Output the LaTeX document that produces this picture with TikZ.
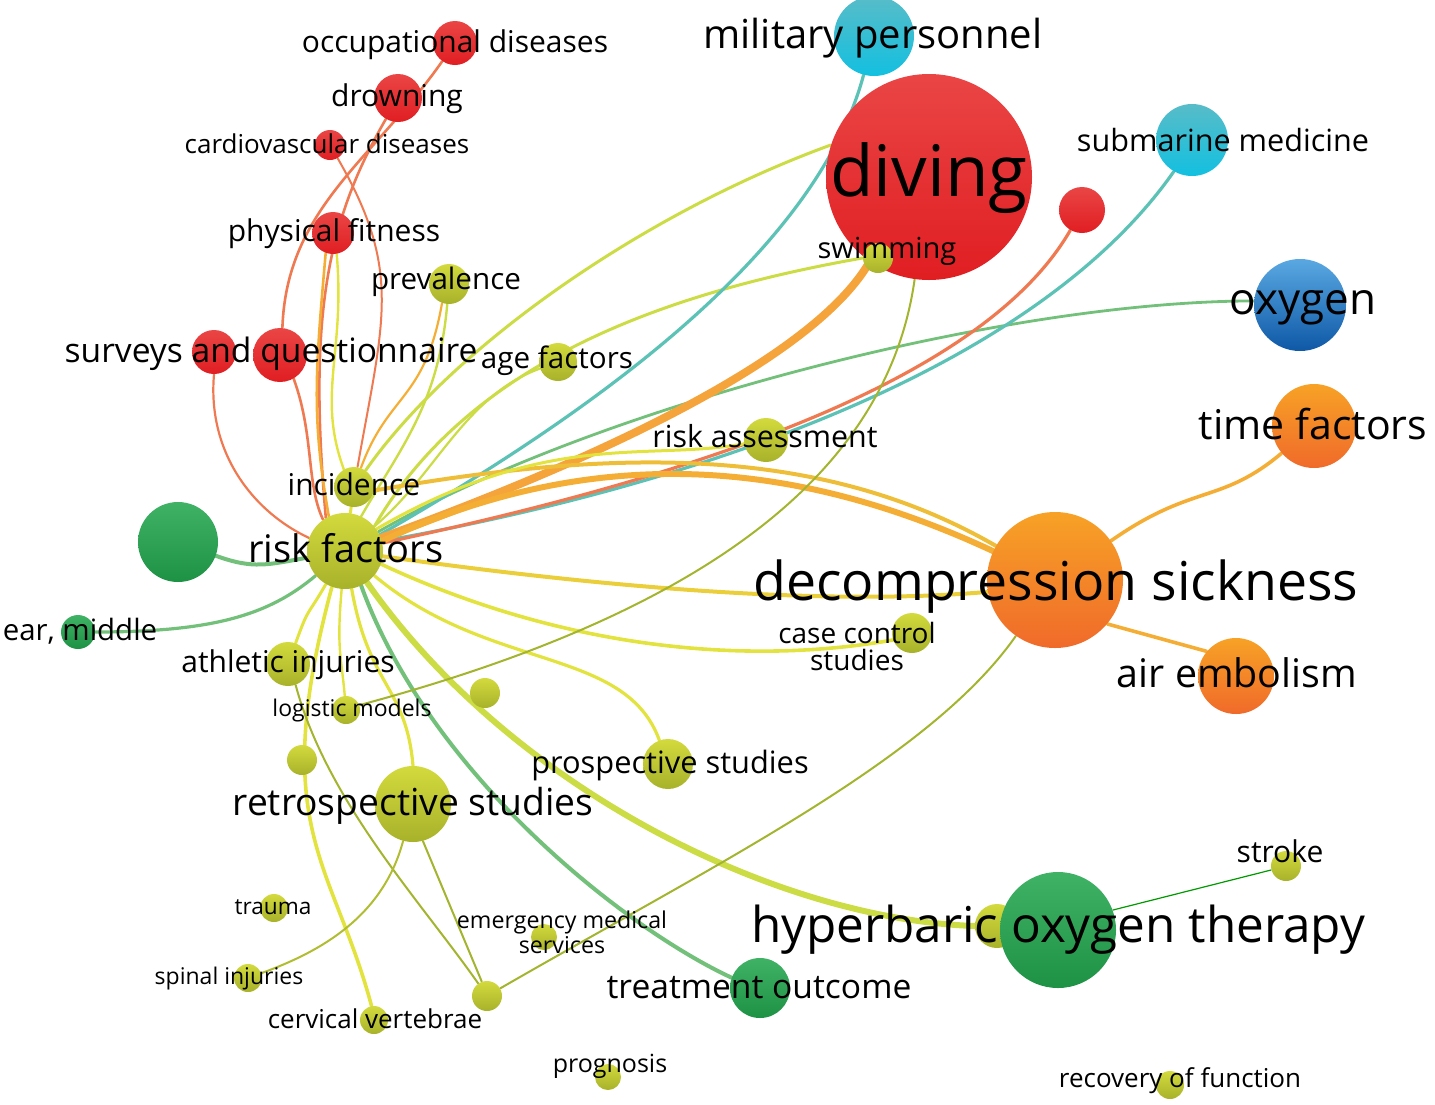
\documentclass[tikz,border=0pt]{standalone}
\usepackage{fontspec}
\setmainfont{Open Sans}
\usetikzlibrary{backgrounds}
\definecolor{lkOrRed}{HTML}{EF7A52}
\definecolor{lkOrange}{HTML}{F5AE35}
\definecolor{lkYellow}{HTML}{E2E33E}
\definecolor{lkLime}{HTML}{CBDC45}
\definecolor{lkGreen}{HTML}{72C07A}
\definecolor{lkTeal}{HTML}{5CC2B6}
\definecolor{lkOlive}{HTML}{A3B42E}
\definecolor{redTop}{HTML}{EA4545}
\definecolor{redBot}{HTML}{E01E22}
\definecolor{oliveTop}{HTML}{D3DA3D}
\definecolor{oliveBot}{HTML}{A8B22A}
\definecolor{greenTop}{HTML}{40B266}
\definecolor{greenBot}{HTML}{1E9244}
\definecolor{orangeTop}{HTML}{F7A226}
\definecolor{orangeBot}{HTML}{F06A2A}
\definecolor{cyanTop}{HTML}{58BCC8}
\definecolor{cyanBot}{HTML}{12C0E0}
\definecolor{blueTop}{HTML}{5AA8E2}
\definecolor{blueBot}{HTML}{0E58A6}
\newcommand{\fsz}[1]{\fontsize{#1}{#1}\selectfont}
\tikzset{
    kw/.style={circle, inner sep=0pt, draw=none},
    kwred/.style={kw, top color=redTop, bottom color=redBot},
    kwolive/.style={kw, top color=oliveTop, bottom color=oliveBot},
    kwgreen/.style={kw, top color=greenTop, bottom color=greenBot},
    kworange/.style={kw, top color=orangeTop, bottom color=orangeBot},
    kwcyan/.style={kw, top color=cyanTop, bottom color=cyanBot},
    kwblue/.style={kw, top color=blueTop, bottom color=blueBot},
    kwlabel/.style={anchor=base, inner sep=0pt, text=black},
    lnk/.style={line cap=round}
}

\begin{document}
\begin{tikzpicture}[x=0.5pt, y=0.5pt]
    \useasboundingbox (0,0) rectangle (1435,-1104);

    % keyword circles (red cluster)
    \node[kwred, minimum size=22pt] (occ) at (455,-43) {};
    \node[kwred, minimum size=24pt] (drown) at (398,-98) {};
    \node[kwred, minimum size=15pt] (cardio) at (330,-145) {};
    \node[kwred, minimum size=21pt] (pf) at (333,-233) {};
    \node[kwred, minimum size=22pt] (svA) at (214,-352) {};
    \node[kwred, minimum size=27pt] (svB) at (280,-355) {};
    \node[kwred, minimum size=103pt] (diving) at (929,-177) {};
    \node[kwred, minimum size=23pt] (redsm) at (1082,-210) {};

    % yellow-green cluster
    \node[kwolive, minimum size=20pt] (prev) at (449,-284) {};
    \node[kwolive, minimum size=19pt] (age) at (558,-362) {};
    \node[kwolive, minimum size=20pt] (inc) at (354,-487) {};
    \node[kwolive, minimum size=38pt] (rf) at (345,-551) {};
    \node[kwolive, minimum size=22pt] (ath) at (288,-664) {};
    \node[kwolive, minimum size=14pt] (logm) at (346,-710) {};
    \node[kwolive, minimum size=15pt] (u1) at (485,-693) {};
    \node[kwolive, minimum size=15pt] (u2) at (302,-760) {};
    \node[kwolive, minimum size=38pt] (retro) at (413,-804) {};
    \node[kwolive, minimum size=25pt] (pros) at (668,-764) {};
    \node[kwolive, minimum size=14pt] (trauma) at (274,-908) {};
    \node[kwolive, minimum size=13pt] (ems) at (544,-937) {};
    \node[kwolive, minimum size=14pt] (spinal) at (248,-978) {};
    \node[kwolive, minimum size=14pt] (cerv) at (374,-1020) {};
    \node[kwolive, minimum size=15pt] (u3) at (487,-996) {};
    \node[kwolive, minimum size=13pt] (progn) at (608,-1077) {};
    \node[kwolive, minimum size=15pt] (stroke) at (1286,-866) {};
    \node[kwolive, minimum size=14pt] (recov) at (1170,-1085) {};
    \node[kwolive, minimum size=20pt] (cc) at (912,-633) {};
    \node[kwolive, minimum size=22pt] (ra) at (766,-440) {};
    \node[kwolive, minimum size=15pt] (swim) at (878,-258) {};
    \node[kwolive, minimum size=22pt] (hbosm) at (997,-926) {};

    % green cluster
    \node[kwgreen, minimum size=40pt] (bg) at (178,-542) {};
    \node[kwgreen, minimum size=17pt] (ear) at (78,-632) {};
    \node[kwgreen, minimum size=30pt] (tout) at (760,-988) {};
    \node[kwgreen, minimum size=58pt] (hbo) at (1058,-930) {};

    % orange, cyan, blue clusters
    \node[kworange, minimum size=68pt] (dcs) at (1055,-580) {};
    \node[kworange, minimum size=42pt] (time) at (1314,-426) {};
    \node[kworange, minimum size=38pt] (air) at (1236,-676) {};
    \node[kwcyan, minimum size=40pt] (mil) at (874,-36) {};
    \node[kwcyan, minimum size=36pt] (sub) at (1192,-140) {};
    \node[kwblue, minimum size=46pt] (oxy) at (1300,-305) {};

    % links
    \begin{scope}[on background layer]
        \draw[lnk, lkOrRed, line width=1.3pt] (occ.235) .. controls +(235:120) and +(88:120) .. (svB.85);
        \draw[lnk, lkOrRed, line width=1.3pt] (drown.240) .. controls +(240:120) and +(95:200) .. (rf.120);
        \draw[lnk, lkOrRed, line width=1pt] (cardio.-60) .. controls +(-60:130) and +(80:150) .. (inc.80);
        \draw[lnk, lkOrange, line width=1.3pt] (pf.250) .. controls +(265:120) and +(100:100) .. (rf.115);
        \draw[lnk, lkYellow, line width=1.2pt] (pf.280) .. controls +(275:100) and +(110:80) .. (inc.120);
        \draw[lnk, lkOrRed, line width=1.1pt] (svA.270) .. controls +(265:80) and +(155:60) .. (rf.160);
        \draw[lnk, lkOrRed, line width=1.3pt] (svB.300) .. controls +(-70:60) and +(115:40) .. (rf.125);
        \draw[lnk, lkLime, line width=1.2pt] (prev.265) .. controls +(265:100) and +(60:80) .. (rf.65);
        \draw[lnk, lkOrange, line width=1.1pt] (prev.250) .. controls +(260:100) and +(70:80) .. (inc.70);
        \draw[lnk, lkLime, line width=1.1pt] (age.200) .. controls +(200:80) and +(40:80) .. (rf.40);
        \draw[lnk, lkLime, line width=1.5pt] (diving.162) .. controls +(200:200) and +(55:150) .. (inc.55);
        \draw[lnk, lkLime, line width=1.5pt] (swim.180) .. controls +(190:180) and +(60:200) .. (rf.40);
        \draw[lnk, lkGreen, line width=1.4pt] (oxy.175) .. controls +(180:250) and +(30:250) .. (rf.30);
        \draw[lnk, lkTeal, line width=1.6pt] (mil.255) .. controls +(255:200) and +(30:200) .. (rf.25);
        \draw[lnk, lkTeal, line width=1.6pt] (sub.240) .. controls +(235:250) and +(10:300) .. (rf.15);
        \draw[lnk, lkOrRed, line width=1.6pt] (redsm.240) .. controls +(240:180) and +(12:300) .. (rf.12);
        \draw[lnk, lkOrange!80!lkOrRed, line width=4pt] (diving.235) .. controls +(240:120) and +(20:200) .. (rf.20);
        \draw[lnk, lkOrange, line width=3pt] (rf.15) .. controls +(25:250) and +(155:200) .. (dcs.155);
        \draw[lnk, lkOrange!70!lkYellow, line width=2pt] (inc.-10) .. controls +(10:250) and +(150:200) .. (dcs.150);
        \draw[lnk, lkYellow!60!lkOrange, line width=2pt] (rf.-8) .. controls +(-8:250) and +(185:150) .. (dcs.190);
        \draw[lnk, lkYellow, line width=1.8pt] (rf.-20) .. controls +(-25:200) and +(190:150) .. (cc.200);
        \draw[lnk, lkYellow, line width=1.5pt] (rf.35) .. controls +(30:200) and +(190:100) .. (ra.190);
        \draw[lnk, lkYellow, line width=1.6pt] (rf.-40) .. controls +(-40:150) and +(110:100) .. (pros.110);
        \draw[lnk, lkLime, line width=3pt] (rf.-55) .. controls +(-55:250) and +(178:200) .. (hbosm.180);
        \draw[lnk, lkGreen, line width=2pt] (rf.-65) .. controls +(-70:200) and +(155:120) .. (tout.160);
        \draw[lnk, lkYellow, line width=1.6pt] (rf.-80) .. controls +(-80:100) and +(95:80) .. (retro.90);
        \draw[lnk, lkYellow, line width=1.5pt] (rf.240) .. controls +(240:40) and +(70:40) .. (ath.70);
        \draw[lnk, lkYellow, line width=1.2pt] (rf.265) .. controls +(265:60) and +(95:40) .. (logm.95);
        \draw[lnk, lkYellow, line width=1.8pt] (rf.250) .. controls +(255:250) and +(105:150) .. (cerv.100);
        \draw[lnk, lkGreen, line width=1.6pt] (ear.0) .. controls +(0:120) and +(220:60) .. (rf.220);
        \draw[lnk, lkGreen, line width=2pt] (bg.-20) .. controls +(-20:40) and +(190:40) .. (rf.190);
        \draw[lnk, lkYellow, line width=1.5pt] (rf) -- (inc);
        \draw[lnk, lkOlive, line width=1pt] (ath.-70) .. controls +(-75:120) and +(125:100) .. (u3.125);
        \draw[lnk, lkOlive, line width=1pt] (logm.20) .. controls +(15:350) and +(262:200) .. (diving.262);
        \draw[lnk, lkOlive!80!lkYellow, line width=1pt] (retro.255) .. controls +(255:80) and +(20:60) .. (spinal.20);
        \draw[lnk, lkOlive, line width=1pt] (retro.285) -- (u3.110);
        \draw[lnk, lkOlive, line width=1pt] (u3.30) .. controls +(30:250) and +(235:150) .. (dcs.235);
        \draw[lnk, lkOrange, line width=1.8pt] (dcs.35) .. controls +(35:100) and +(220:80) .. (time.220);
        \draw[lnk, lkOrange, line width=1.8pt] (dcs.-40) -- (air.140);
        \draw[lnk, green!60!black, line width=0.6pt] (hbo.20) -- (stroke.195);
    \end{scope}

    % labels
    \node[kwlabel, font=\fsz{15}] (occ-l) at (455,-52) {occupational diseases};
    \node[kwlabel, font=\fsz{15}] (drown-l) at (397,-106) {drowning};
    \node[kwlabel, font=\fsz{13}] (cardio-l) at (327,-153) {cardiovascular diseases};
    \node[kwlabel, font=\fsz{15}] (pf-l) at (334,-241) {physical fitness};
    \node[kwlabel, font=\fsz{14.8}] (prev-l) at (446,-289) {prevalence};
    \node[kwlabel, font=\fsz{16.8}] (sv-l) at (271,-362) {surveys and questionnaire};
    \node[kwlabel, font=\fsz{14.8}] (age-l) at (557,-368) {age factors};
    \node[kwlabel, font=\fsz{15}] (inc-l) at (354,-495) {incidence};
    \node[kwlabel, font=\fsz{19}] (rf-l) at (346,-562) {risk factors};
    \node[kwlabel, font=\fsz{14.7}] (ear-l) at (80,-640) {ear, middle};
    \node[kwlabel, font=\fsz{15}] (ath-l) at (288,-672) {athletic injuries};
    \node[kwlabel, font=\fsz{11.5}] (logm-l) at (352,-716) {logistic models};
    \node[kwlabel, font=\fsz{18.6}] (retro-l) at (413,-815) {retrospective studies};
    \node[kwlabel, font=\fsz{15.4}] (pros-l) at (670,-773) {prospective studies};
    \node[kwlabel, font=\fsz{11.3}] (trauma-l) at (273,-914) {trauma};
    \node[font=\fontsize{11.6}{10.5}\selectfont, inner sep=0pt, align=center, text=black] (ems-l) at (562,-932) {emergency medical\\services};
    \node[kwlabel, font=\fsz{11.5}] (spinal-l) at (229,-984) {spinal injuries};
    \node[kwlabel, font=\fsz{13}] (cerv-l) at (375,-1028) {cervical vertebrae};
    \node[kwlabel, font=\fsz{12.5}] (progn-l) at (610,-1072) {prognosis};
    \node[kwlabel, font=\fsz{16.8}] (tout-l) at (759,-998) {treatment outcome};
    \node[kwlabel, font=\fsz{24.7}] (hbo-l) at (1058,-942) {hyperbaric oxygen therapy};
    \node[kwlabel, font=\fsz{15}] (stroke-l) at (1280,-862) {stroke};
    \node[kwlabel, font=\fsz{13}] (recov-l) at (1180,-1087) {recovery of function};
    \node[kwlabel, font=\fsz{26.8}] (dcs-l) at (1056,-600) {decompression sickness};
    \node[font=\fontsize{14}{13.5}\selectfont, inner sep=0pt, align=center, text=black] (cc-l) at (857,-646) {case control\\studies};
    \node[kwlabel, font=\fsz{19.7}] (air-l) at (1237,-687) {air embolism};
    \node[kwlabel, font=\fsz{20.5}] (time-l) at (1313,-439) {time factors};
    \node[kwlabel, font=\fsz{15.2}] (ra-l) at (765,-447) {risk assessment};
    \node[kwlabel, font=\fsz{22}] (oxy-l) at (1303,-314) {oxygen};
    \node[kwlabel, font=\fsz{15.3}] (sub-l) at (1223,-151) {submarine medicine};
    \node[kwlabel, font=\fsz{20}] (mil-l) at (873,-48) {military personnel};
    \node[kwlabel, font=\fsz{35.5}] (diving-l) at (929,-196) {diving};
    \node[kwlabel, font=\fsz{14.5}] (swim-l) at (887,-258) {swimming};
\end{tikzpicture}
\end{document}
